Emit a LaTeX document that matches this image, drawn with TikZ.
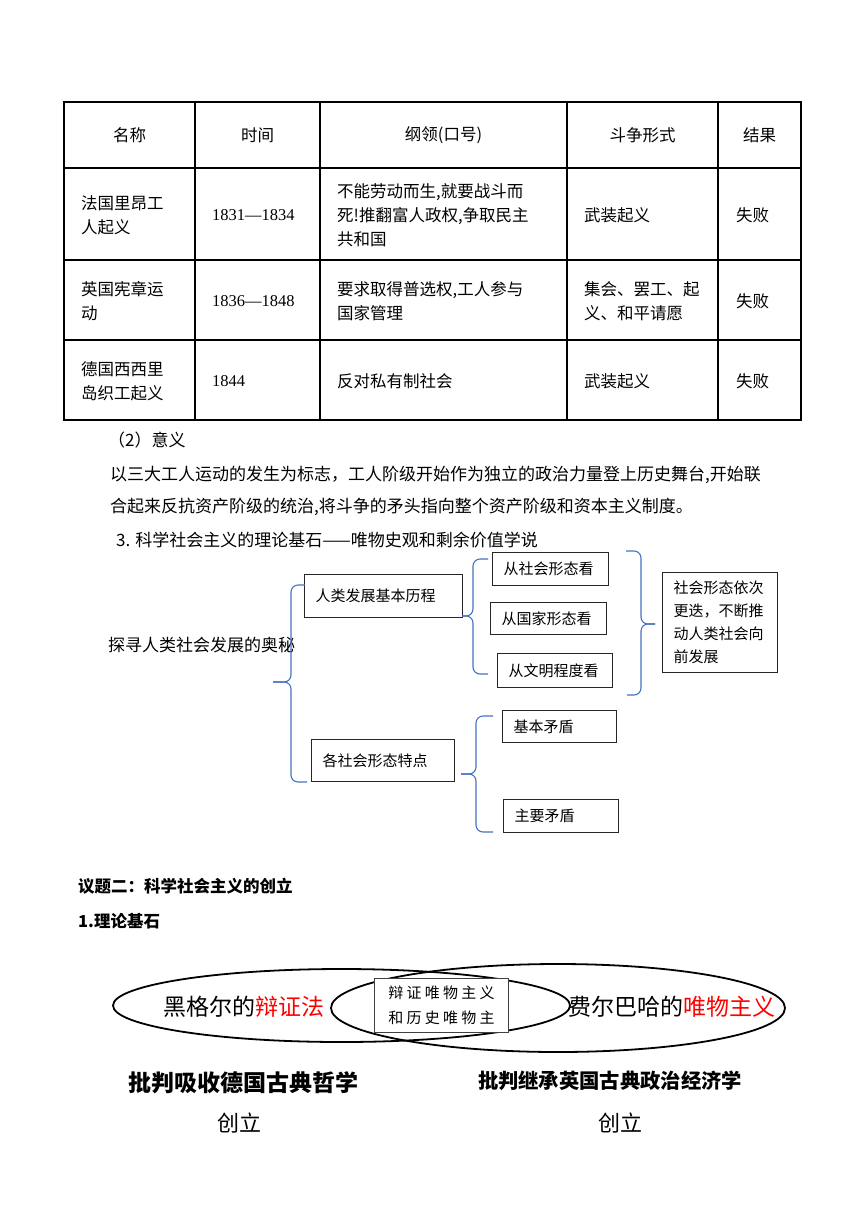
\documentclass[tikz,border=0pt]{standalone}
\usepackage{fontspec}
\setmainfont{Noto Sans CJK SC}
\newfontfamily\numfont{Liberation Serif}
\newfontfamily\widefont[LetterSpace=22]{Noto Sans CJK SC}
\usetikzlibrary{positioning,shapes.geometric}
\definecolor{bracblue}{HTML}{4472C4}
\definecolor{keyred}{HTML}{FF0000}

\begin{document}
\begin{tikzpicture}[x=1pt,y=-1pt,
tbl/.style={line width=1.4pt},
hd/.style={inner sep=0pt,font=\fontsize{16.5}{24}\selectfont},
cell/.style={inner sep=0pt,anchor=west,align=left,font=\fontsize{16.5}{24}\selectfont},
txt/.style={inner sep=0pt,anchor=west,font=\fontsize{17}{24}\selectfont},
bx/.style={draw=black!85,line width=1.1pt,anchor=north west,align=left,
inner xsep=11pt,inner ysep=0pt,font=\fontsize{15}{23}\selectfont},
brc/.style={draw=bracblue,line width=1.1pt,rounded corners=7pt},
venn/.style={ellipse,draw,line width=1.8pt,inner sep=0pt},
vtxt/.style={inner sep=0pt,font=\fontsize{23}{28}\selectfont},
midbx/.style={draw=black!75,fill=white,line width=1pt,anchor=north west,
align=center,inner sep=0pt,font=\widefont\fontsize{15}{25}\selectfont},
big/.style={inner sep=0pt,font=\bfseries\fontsize{23}{28}\selectfont}
]
\useasboundingbox (0,0) rectangle (860,1216);
\fill[white] (0,0) rectangle (860,1216);

% table
\draw[tbl] (64,102) rectangle (801,420);
\draw[tbl] (64,168) -- (801,168) (64,260) -- (801,260) (64,340) -- (801,340);
\draw[tbl] (195,102) -- (195,420) (320,102) -- (320,420)
(567,102) -- (567,420) (718,102) -- (718,420);

\node[hd] (hname) at (129.5,135) {名称};
\node[hd] (htime) at (257.5,135) {时间};
\node[hd] (hprog) at (443.5,135) {纲领(口号)};
\node[hd] (hform) at (642.5,135) {斗争形式};
\node[hd] (hres) at (759.5,135) {结果};

\node[cell] (n1) at (81,215) {法国里昂工\\人起义};
\node[cell] (t1) at (212,215) {\numfont 1831—1834};
\node[cell] (p1) at (337,215) {不能劳动而生,就要战斗而\\死!推翻富人政权,争取民主\\共和国};
\node[cell] (f1) at (584,215) {武装起义};
\node[cell] (r1) at (736,215) {失败};

\node[cell] (n2) at (81,301) {英国宪章运\\动};
\node[cell] (t2) at (212,301) {\numfont 1836—1848};
\node[cell] (p2) at (337,301) {要求取得普选权,工人参与\\国家管理};
\node[cell] (f2) at (584,301) {集会、罢工、起\\义、和平请愿};
\node[cell] (r2) at (736,301) {失败};

\node[cell] (n3) at (81,381) {德国西西里\\岛织工起义};
\node[cell] (t3) at (212,381) {\numfont 1844};
\node[cell] (p3) at (337,381) {反对私有制社会};
\node[cell] (f3) at (584,381) {武装起义};
\node[cell] (r3) at (736,381) {失败};

% text
\node[txt] (sig) at (108,440) {（2）意义};
\node[txt] (sigA) at (110,475) {以三大工人运动的发生为标志，工人阶级开始作为独立的政治力量登上历史舞台,开始联};
\node[txt] (sigB) at (110,507) {合起来反抗资产阶级的统治,将斗争的矛头指向整个资产阶级和资本主义制度。};
\node[txt] (basis) at (116,540) {3. 科学社会主义的理论基石——唯物史观和剩余价值学说};

% diagram
\node[txt] (root) at (108,645) {探寻人类社会发展的奥秘};
\node[bx,text width=136pt,minimum height=43pt] (hist) at (304,574) {人类发展基本历程};
\node[bx,text width=121pt,minimum height=42pt] (feat) at (311,739) {各社会形态特点};
\node[bx,text width=94pt,minimum height=33pt] (soc) at (492,552) {从社会形态看};
\node[bx,text width=94pt,minimum height=32pt] (state) at (490,602) {从国家形态看};
\node[bx,text width=93pt,minimum height=34pt] (civ) at (497,653) {从文明程度看};
\node[bx,text width=93pt,minimum height=100pt] (conc) at (662,572)
{社会形态依次\\更迭，不断推\\动人类社会向\\前发展};
\node[bx,text width=92pt,minimum height=32pt] (basic) at (502,710) {基本矛盾};
\node[bx,text width=93pt,minimum height=33pt] (main) at (503,799) {主要矛盾};

\draw[brc] (305,585) -- (291,585) -- (291,682) -- (273,682);
\draw[brc] (273,682) -- (291,682) -- (291,782) -- (307,782);
\draw[brc] (488,559) -- (473,559) -- (473,616) -- (462,616);
\draw[brc] (462,616) -- (473,616) -- (473,674) -- (488,674);
\draw[brc] (626,551) -- (641,551) -- (641,624) -- (655,624);
\draw[brc] (655,624) -- (641,624) -- (641,695) -- (627,695);
\draw[brc] (493,716) -- (476,716) -- (476,774) -- (461,774);
\draw[brc] (461,774) -- (476,774) -- (476,832) -- (493,832);

% topic two
\node[txt,font=\bfseries\fontsize{16.5}{24}\selectfont] (topic) at (78,886) {议题二：科学社会主义的创立};
\node[txt,font=\bfseries\fontsize{16.5}{24}\selectfont] (found) at (78,921) {1.理论基石};

\node[venn,minimum width=457pt,minimum height=73pt] (hegel) at (341.5,1005.5) {};
\node[venn,minimum width=454pt,minimum height=88pt] (feuer) at (558,1008) {};
\node[midbx,minimum width=134pt,minimum height=54pt] (mat) at (374,978) {辩证唯物主义\\和历史唯物主};
\node[vtxt] (hegelt) at (244,1007) {黑格尔的\textcolor{keyred}{辩证法}};
\node[vtxt] (feuert) at (672,1007) {费尔巴哈的\textcolor{keyred}{唯物主义}};

\node[big] (phil) at (243,1083) {批判吸收德国古典哲学};
\node[big,font=\bfseries\fontsize{20.3}{26}\selectfont] (econ) at (610,1081) {批判继承英国古典政治经济学};
\node[vtxt,font=\fontsize{22}{26}\selectfont] (mkA) at (239,1123) {创立};
\node[vtxt,font=\fontsize{22}{26}\selectfont] (mkB) at (620,1123) {创立};
\end{tikzpicture}
\end{document}
